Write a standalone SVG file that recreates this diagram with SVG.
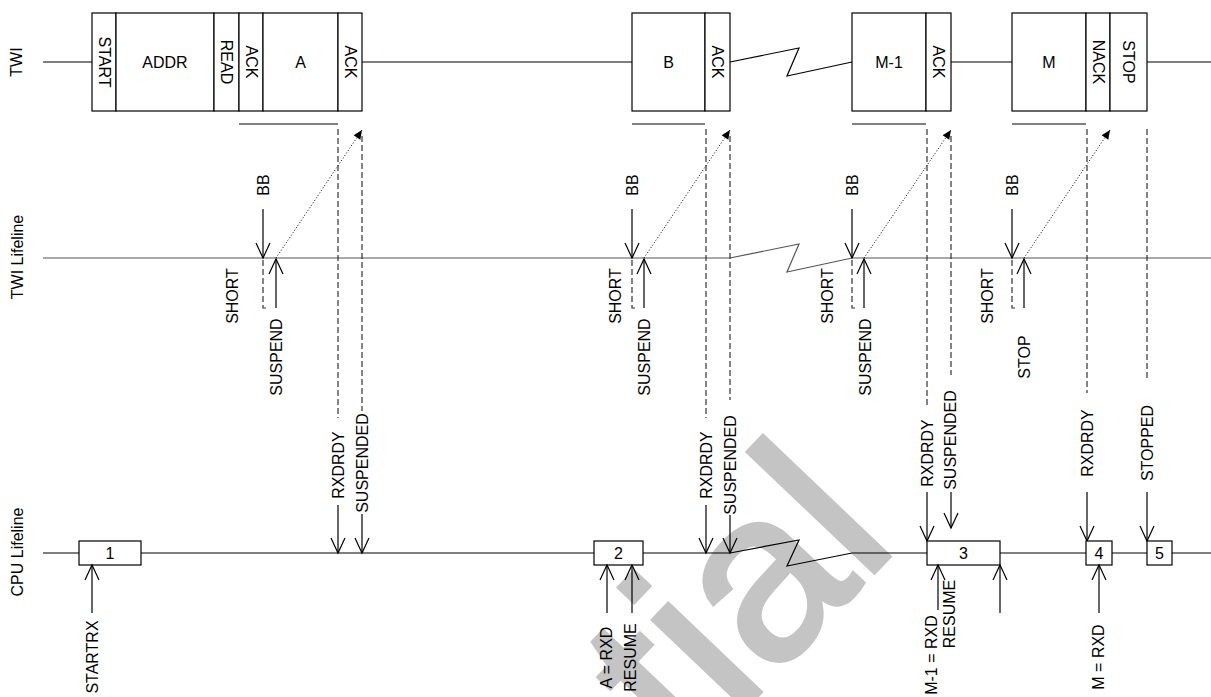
<svg xmlns="http://www.w3.org/2000/svg" width="1211" height="697" viewBox="0 0 1211 697">
<style>
text{font-family:"Liberation Sans",Arial,sans-serif;font-size:16px;fill:#000;text-anchor:middle;dominant-baseline:central}
.ln{stroke:#000;stroke-width:1.2;fill:none}
.life{stroke:#555;stroke-width:1.2;fill:none}
.box{stroke:#000;stroke-width:1.2;fill:#fff}
.gray{stroke:#808080;stroke-width:2.2;fill:none}
.dash{stroke:#333;stroke-width:1.2;stroke-dasharray:6 3;fill:none}
.dot{stroke:#000;stroke-width:1;stroke-dasharray:1 2;fill:none}
.arr{stroke:#000;stroke-width:1.2;fill:none;marker-end:url(#open)}
.wm{font-size:240px;fill:#c4c4c4;stroke:#c4c4c4;stroke-width:5;text-anchor:end;dominant-baseline:auto}
</style>
<defs>
<marker id="open" markerUnits="userSpaceOnUse" viewBox="-17 -9 19 18" markerWidth="19" markerHeight="18" refX="0" refY="0" orient="auto">
<path d="M-15,-7 L0,0 L-15,7" fill="none" stroke="#000" stroke-width="1.2"/>
</marker>
<marker id="tri" markerUnits="userSpaceOnUse" viewBox="-10 -5 11 10" markerWidth="11" markerHeight="10" refX="0" refY="0" orient="auto">
<path d="M-9,-4 L0,0 L-9,4 Z" fill="#000"/>
</marker>
</defs>
<rect width="1211" height="697" fill="#fff"/>
<text class="wm" x="900" y="545" transform="rotate(-46.4 900 545)">tial</text>

<g id="row-labels">
<text x="16" y="62" transform="rotate(-90 16 62)">TWI</text>
<text x="17" y="257" transform="rotate(-90 17 257)">TWI Lifeline</text>
<text x="17" y="552" transform="rotate(-90 17 552)">CPU Lifeline</text>
</g>

<g id="connectors">
<path class="ln" d="M43,62 H92 M362,62 H632 M730,62 L799,48 L787,76 L852,62 M951,62 H1012 M1147,62 H1211"/>
<path class="gray" d="M239,124 H338 M632,124 H705 M852,124 H926 M1012,124 H1086"/>
<path class="life" d="M43,258 H730 L799,244 L787,272 L852,258 H1211"/>
<path class="ln" d="M43,553 H79 M141,553 H594 M643,553 H730 L799,540 L787,566 L852,553 H927 M1000,553 H1086 M1112,553 H1147 M1172,553 H1211"/>
</g>

<g id="twi-frames">
<rect class="box" x="92" y="13" width="24" height="98"/>
<rect class="box" x="116" y="13" width="98" height="98"/>
<rect class="box" x="214" y="13" width="25" height="98"/>
<rect class="box" x="239" y="13" width="24" height="98"/>
<rect class="box" x="263" y="13" width="75" height="98"/>
<rect class="box" x="338" y="13" width="24" height="98"/>
<text x="104" y="62" transform="rotate(90 104 62)">START</text>
<text x="165" y="62">ADDR</text>
<text x="226.5" y="62" transform="rotate(90 226.5 62)">READ</text>
<text x="251" y="62" transform="rotate(90 251 62)">ACK</text>
<text x="300.5" y="62">A</text>
<text x="350" y="62" transform="rotate(90 350 62)">ACK</text>
</g>
<g id="twi-b">
<rect class="box" x="632" y="13" width="73" height="98"/>
<rect class="box" x="705" y="13" width="25" height="98"/>
<text x="668.5" y="62">B</text>
<text x="717.5" y="62" transform="rotate(90 717.5 62)">ACK</text>
</g>
<g id="twi-m1">
<rect class="box" x="852" y="13" width="74" height="98"/>
<rect class="box" x="926" y="13" width="25" height="98"/>
<text x="889" y="62">M-1</text>
<text x="938.5" y="62" transform="rotate(90 938.5 62)">ACK</text>
</g>
<g id="twi-m">
<rect class="box" x="1012" y="13" width="74" height="98"/>
<rect class="box" x="1086" y="13" width="24" height="98"/>
<rect class="box" x="1110" y="13" width="37" height="98"/>
<text x="1049" y="62">M</text>
<text x="1098" y="62" transform="rotate(90 1098 62)">NACK</text>
<text x="1128.5" y="62" transform="rotate(90 1128.5 62)">STOP</text>
</g>

<g id="ev-a">
<line class="arr" x1="263" y1="209" x2="263" y2="258"/>
<text x="263" y="185" transform="rotate(-90 263 185)">BB</text>
<path class="dash" d="M263,260 V308 H268"/>
<text x="232.5" y="296" transform="rotate(-90 232.5 296)">SHORT</text>
<line class="arr" x1="276" y1="308" x2="276" y2="259"/>
<text x="276" y="357" transform="rotate(-90 276 357)">SUSPEND</text>
<line class="dot" x1="276" y1="258" x2="362" y2="130" marker-end="url(#tri)"/>
<line class="dash" x1="338" y1="129" x2="338" y2="418"/>
<text x="338" y="465" transform="rotate(-90 338 465)">RXDRDY</text>
<line class="arr" x1="338" y1="505" x2="338" y2="553"/>
<line class="dash" x1="362" y1="136" x2="362" y2="411"/>
<text x="362" y="463" transform="rotate(-90 362 463)">SUSPENDED</text>
<line class="arr" x1="362" y1="514" x2="362" y2="553"/>
</g>

<g id="ev-b">
<line class="arr" x1="632" y1="209" x2="632" y2="258"/>
<text x="632" y="185" transform="rotate(-90 632 185)">BB</text>
<path class="dash" d="M632,260 V308 H637"/>
<text x="615.5" y="296" transform="rotate(-90 615.5 296)">SHORT</text>
<line class="arr" x1="644" y1="308" x2="644" y2="259"/>
<text x="644" y="357" transform="rotate(-90 644 357)">SUSPEND</text>
<line class="dot" x1="644" y1="258" x2="730" y2="130" marker-end="url(#tri)"/>
<line class="dash" x1="706" y1="129" x2="706" y2="418"/>
<text x="706" y="465" transform="rotate(-90 706 465)">RXDRDY</text>
<line class="arr" x1="706" y1="505" x2="706" y2="553"/>
<line class="dash" x1="730" y1="136" x2="730" y2="400"/>
<text x="730" y="465" transform="rotate(-90 730 465)">SUSPENDED</text>
<line class="arr" x1="730" y1="515" x2="730" y2="553"/>
</g>

<g id="ev-m1">
<line class="arr" x1="852" y1="209" x2="852" y2="258"/>
<text x="852" y="185" transform="rotate(-90 852 185)">BB</text>
<path class="dash" d="M852,260 V308 H857"/>
<text x="827.5" y="296" transform="rotate(-90 827.5 296)">SHORT</text>
<line class="arr" x1="864" y1="308" x2="864" y2="259"/>
<text x="865" y="357" transform="rotate(-90 865 357)">SUSPEND</text>
<line class="dot" x1="864" y1="258" x2="951" y2="130" marker-end="url(#tri)"/>
<line class="dash" x1="927" y1="129" x2="927" y2="405"/>
<text x="927" y="453" transform="rotate(-90 927 453)">RXDRDY</text>
<line class="arr" x1="927" y1="492" x2="927" y2="541"/>
<line class="dash" x1="951" y1="136" x2="951" y2="375"/>
<text x="950" y="440" transform="rotate(-90 950 440)">SUSPENDED</text>
<line class="arr" x1="951" y1="492" x2="951" y2="528"/>
</g>

<g id="ev-m">
<line class="arr" x1="1012" y1="209" x2="1012" y2="258"/>
<text x="1012" y="185" transform="rotate(-90 1012 185)">BB</text>
<path class="dash" d="M1012,260 V308 H1017"/>
<text x="987.5" y="296" transform="rotate(-90 987.5 296)">SHORT</text>
<line class="arr" x1="1024" y1="308" x2="1024" y2="259"/>
<text x="1024" y="357" transform="rotate(-90 1024 357)">STOP</text>
<line class="dot" x1="1024" y1="258" x2="1110" y2="130" marker-end="url(#tri)"/>
<line class="dash" x1="1087" y1="129" x2="1087" y2="393"/>
<text x="1087" y="443" transform="rotate(-90 1087 443)">RXDRDY</text>
<line class="arr" x1="1087" y1="492" x2="1087" y2="541"/>
<line class="dash" x1="1147" y1="129" x2="1147" y2="380"/>
<text x="1147" y="443" transform="rotate(-90 1147 443)">STOPPED</text>
<line class="arr" x1="1147" y1="492" x2="1147" y2="541"/>
</g>

<g id="cpu-1">
<rect class="box" x="79" y="541" width="62" height="24"/>
<text x="110" y="553">1</text>
<line class="arr" x1="92" y1="613" x2="92" y2="565"/>
<text x="92" y="657" transform="rotate(-90 92 657)">STARTRX</text>
</g>
<g id="cpu-2">
<rect class="box" x="594" y="541" width="49" height="24"/>
<text x="618.5" y="553">2</text>
<line class="arr" x1="607" y1="613" x2="607" y2="565"/>
<line class="arr" x1="632" y1="613" x2="632" y2="565"/>
<text x="606.5" y="657.5" transform="rotate(-90 606.5 657.5)">A = RXD</text>
<text x="630" y="657.5" transform="rotate(-90 630 657.5)">RESUME</text>
</g>
<g id="cpu-3">
<rect class="box" x="927" y="541" width="73" height="24"/>
<text x="963.5" y="553">3</text>
<line class="arr" x1="938" y1="610" x2="938" y2="565"/>
<line class="arr" x1="1000" y1="613" x2="1000" y2="565"/>
<text x="931.5" y="655" transform="rotate(-90 931.5 655)">M-1 = RXD</text>
<text x="949.5" y="614" transform="rotate(-90 949.5 614)">RESUME</text>
</g>
<g id="cpu-4">
<rect class="box" x="1086" y="541" width="26" height="24"/>
<text x="1099" y="553">4</text>
<line class="arr" x1="1099" y1="613" x2="1099" y2="565"/>
<text x="1098" y="657" transform="rotate(-90 1098 657)">M = RXD</text>
</g>
<g id="cpu-5">
<rect class="box" x="1147" y="541" width="25" height="24"/>
<text x="1159.5" y="553">5</text>
</g>
</svg>
